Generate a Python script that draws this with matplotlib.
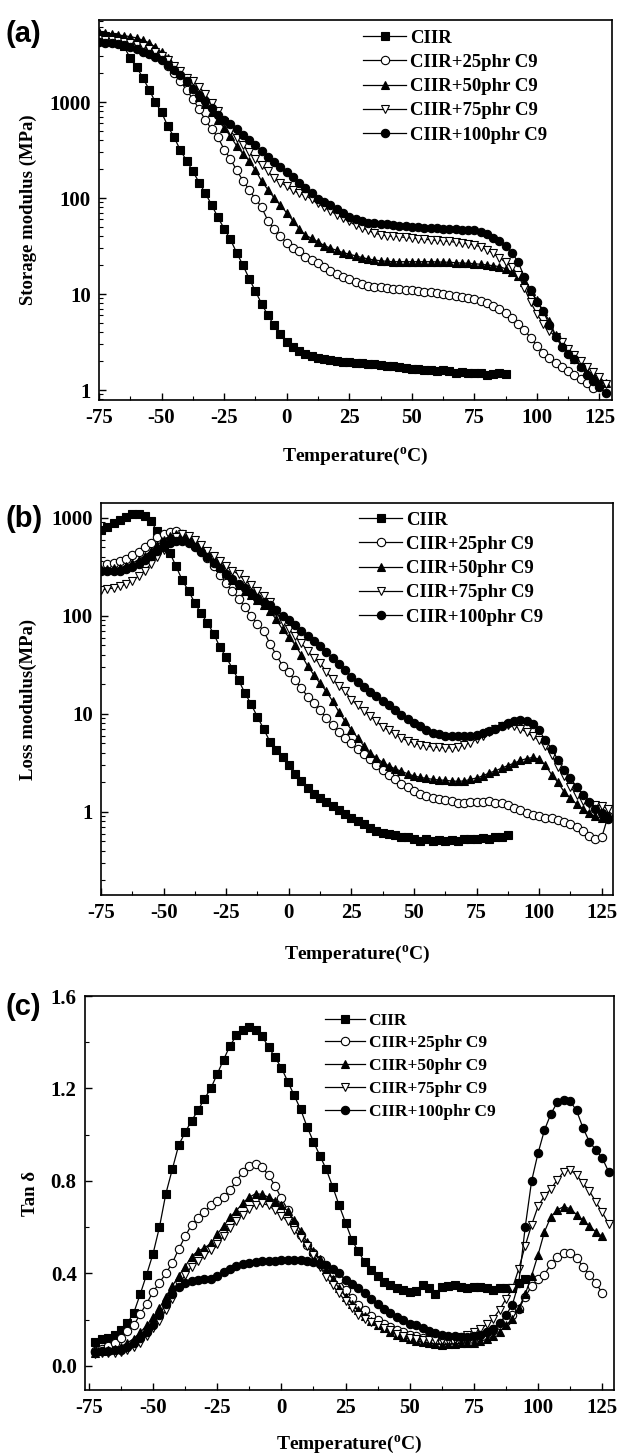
import matplotlib
matplotlib.use("Agg")
import matplotlib.pyplot as plt
import numpy as np
from matplotlib.ticker import FixedLocator, LogLocator, NullFormatter, MultipleLocator, FormatStrFormatter

plt.rcParams['font.family'] = ['Liberation Serif', 'DejaVu Serif']
plt.rcParams['font.weight'] = 'bold'
plt.rcParams['axes.labelweight'] = 'bold'
plt.rcParams['axes.unicode_minus'] = False
plt.rcParams['mathtext.fontset'] = 'custom'
plt.rcParams['mathtext.rm'] = 'Liberation Serif:bold'

labels = ['CIIR', 'CIIR+25phr C9', 'CIIR+50phr C9', 'CIIR+75phr C9', 'CIIR+100phr C9']

# temperature grid (deg C) of the DMA scan, 2.5 C step
temp_ab = np.arange(-75, 130, 2.5)
temp_c = np.arange(-72.5, 130, 2.5)

# (a) storage modulus, MPa
E1_ciir = [5000, 4900, 4750, 4500, 3800, 2850, 2300, 1800, 1350, 1000,
           780, 560, 430, 315, 245, 190, 145, 112, 85, 63,
           48, 37, 27, 20, 14.5, 10.7, 7.9, 6.0, 4.7, 3.85,
           3.2, 2.78, 2.52, 2.35, 2.25, 2.17, 2.12, 2.07, 2.02, 1.98,
           1.95, 1.92, 1.9, 1.88, 1.86, 1.83, 1.8, 1.78, 1.74, 1.70,
           1.67, 1.65, 1.62, 1.60, 1.58, 1.60, 1.57, 1.52, 1.55, 1.50,
           1.52, 1.50, 1.42, 1.48, 1.50, 1.48]
E1_25 = [4600, 4500, 4400, 4250, 4100, 3950, 3800, 3600, 3400, 3100,
         2800, 2400, 2000, 1650, 1330, 1080, 840, 650, 520, 430,
         320, 255, 195, 152, 122, 98, 80, 58, 47, 40,
         34, 30.5, 27.8, 24.5, 22.5, 21, 19.2, 17.5, 16.2, 15.2,
         14.4, 13.4, 12.7, 12.2, 11.9, 11.7, 11.6, 11.4, 11.2, 11.1,
         10.9, 10.7, 10.6, 10.4, 10.2, 10.0, 9.8, 9.6, 9.3, 9.0,
         8.8, 8.5, 8.1, 7.5, 7.0, 6.3, 5.6, 4.9, 4.2, 3.5,
         2.9, 2.45, 2.15, 1.9, 1.72, 1.58, 1.42, 1.3, 1.18, 1.06]
E1_50 = [5300, 5200, 5100, 5000, 4900, 4800, 4650, 4400, 4150, 3700,
         3300, 2850, 2400, 2000, 1650, 1400, 1130, 950, 780, 650,
         540, 440, 350, 290, 245, 195, 150, 122, 100, 84,
         70, 58, 48, 41, 38, 35, 32, 30, 28.5, 27,
         26, 25, 24, 23.2, 22.6, 22.2, 21.9, 21.7, 21.7, 21.7,
         21.7, 21.7, 21.7, 21.7, 21.6, 21.5, 21.4, 21.2, 21.0, 20.9,
         20.7, 20.4, 20.1, 19.7, 19.3, 18.3, 16.9, 15.5, 13.4, 10.8,
         8.6, 6.7, 5.2, 3.7, 2.95, 2.5, 2.1, 1.8, 1.55, 1.42,
         1.3, 1.17]
E1_75 = [4500, 4450, 4400, 4300, 4200, 4100, 3950, 3800, 3600, 3350,
         3050, 2750, 2400, 2100, 1800, 1650, 1450, 1200, 980, 800,
         620, 500, 420, 360, 300, 255, 220, 190, 160, 145,
         133, 120, 112, 106, 97, 88, 80, 73, 67, 62,
         57, 52, 49, 46, 43, 41.5, 40.5, 40, 39.5, 38.8,
         38.2, 37.7, 37.2, 36.7, 36.3, 35.8, 35.3, 34.6, 34, 33.2,
         32.4, 31, 29, 26.5, 23.8, 21.5, 19, 15.8, 11.5, 8.2,
         6.2, 4.9, 4.1, 3.6, 3.2, 2.7, 2.3, 2.0, 1.75, 1.55,
         1.38, 1.15]
E1_100 = [4200, 4150, 4100, 4000, 3900, 3770, 3550, 3350, 3150, 2950,
          2750, 2450, 2150, 1900, 1650, 1380, 1190, 1020, 860, 740,
          650, 590, 520, 450, 400, 355, 310, 270, 240, 212,
          187, 165, 145, 127, 112, 98, 91, 84, 76, 69,
          64, 60, 57, 55.5, 54.5, 53.5, 53, 52, 51, 50.5,
          50, 49.5, 49, 48.7, 48.3, 48, 47.6, 47.2, 46.8, 46.5,
          46, 44.5, 42, 38.5, 35.5, 31.5, 27, 21.5, 15, 11,
          8.3, 6.6, 4.8, 3.6, 2.8, 2.4, 2.1, 1.75, 1.45, 1.25,
          1.08, 0.93]

# (b) loss modulus, MPa
E2_ciir = [750, 800, 880, 960, 1030, 1100, 1100, 1050, 920, 730,
           580, 440, 320, 230, 180, 135, 106, 85, 66, 48,
           38, 29, 22, 16.3, 12.5, 9.3, 7.0, 5.2, 4.3, 3.6,
           3.0, 2.45, 2.05, 1.75, 1.53, 1.38, 1.27, 1.15, 1.05, 0.95,
           0.87, 0.8, 0.75, 0.68, 0.64, 0.61, 0.59, 0.575, 0.56, 0.55,
           0.53, 0.5, 0.53, 0.51, 0.52, 0.5, 0.52, 0.51, 0.53, 0.53,
           0.53, 0.54, 0.53, 0.55, 0.56, 0.58]
E2_25 = [330, 335, 345, 365, 385, 415, 450, 500, 560, 640,
         690, 720, 730, 690, 600, 520, 460, 390, 320, 260,
         215, 180, 150, 122, 100, 83, 70, 52, 40, 31,
         26.5, 22, 18.5, 15, 12.8, 11, 9.1, 7.7, 6.6, 5.7,
         5.0, 4.4, 3.9, 3.45, 3.0, 2.7, 2.4, 2.15, 1.95, 1.78,
         1.63, 1.52, 1.44, 1.38, 1.35, 1.32, 1.3, 1.24, 1.22, 1.25,
         1.27, 1.25, 1.3, 1.24, 1.24, 1.18, 1.1, 1.04, 0.98, 0.94,
         0.9, 0.87, 0.86, 0.83, 0.79, 0.75, 0.7, 0.64, 0.57, 0.53,
         0.55, 0.9]
E2_50 = [300, 300, 305, 310, 325, 345, 375, 410, 465, 530,
         600, 650, 685, 690, 650, 575, 500, 430, 370, 315,
         275, 235, 205, 180, 162, 145, 130, 112, 92, 73,
         61, 51, 40, 31, 25, 20.5, 17, 13.5, 10.5, 8.4,
         6.9, 5.7, 4.7, 4.0, 3.55, 3.2, 2.95, 2.75, 2.6, 2.45,
         2.33, 2.25, 2.2, 2.15, 2.12, 2.1, 2.07, 2.05, 2.07, 2.15,
         2.22, 2.33, 2.5, 2.62, 2.8, 2.97, 3.15, 3.35, 3.5, 3.6,
         3.45, 3.0, 2.4, 2.0, 1.6, 1.38, 1.2, 1.07, 0.97, 0.9,
         0.86, 0.95]
E2_75 = [185, 188, 193, 200, 212, 228, 255, 290, 340, 400,
         470, 560, 640, 680, 650, 590, 530, 460, 410, 360,
         325, 290, 265, 230, 205, 180, 160, 140, 110, 86,
         74, 62, 53, 44, 37, 33, 27, 22.5, 19.5, 17,
         14, 12.2, 10.8, 9.5, 8.4, 7.4, 6.8, 6.2, 5.7, 5.3,
         5.0, 4.85, 4.7, 4.6, 4.55, 4.5, 4.5, 4.6, 4.8, 5.1,
         5.5, 6.0, 6.5, 7.0, 7.5, 7.7, 7.5, 7.1, 6.5, 5.9,
         5.4, 4.7, 3.8, 2.9, 2.3, 1.8, 1.5, 1.3, 1.2, 1.17,
         1.15, 1.08]
E2_100 = [285, 285, 287, 290, 300, 315, 340, 370, 410, 460,
          510, 550, 575, 580, 560, 510, 450, 400, 350, 305,
          270, 240, 212, 192, 170, 152, 140, 128, 116, 100,
          90, 80, 71, 62, 55, 49, 43, 37, 32, 28,
          24, 21, 18.8, 16.8, 15.2, 13.5, 12.2, 11, 9.8, 8.8,
          8.1, 7.5, 6.9, 6.4, 6.2, 6.0, 5.9, 5.9, 5.9, 6.0,
          6.1, 6.4, 6.7, 7.1, 7.5, 8.0, 8.4, 8.7, 8.5, 7.8,
          6.8, 5.4, 4.4, 3.4, 2.7, 2.2, 1.8, 1.5, 1.25, 1.08,
          0.98, 0.85]

# (c) tan delta
tan_ciir = [0.105, 0.115, 0.12, 0.134, 0.155, 0.185, 0.23, 0.31, 0.395, 0.485,
            0.6, 0.745, 0.85, 0.955, 1.01, 1.06, 1.105, 1.155, 1.2, 1.262,
            1.325, 1.385, 1.43, 1.455, 1.467, 1.455, 1.425, 1.38, 1.335, 1.29,
            1.23, 1.17, 1.11, 1.035, 0.97, 0.91, 0.85, 0.775, 0.695, 0.62,
            0.545, 0.495, 0.45, 0.415, 0.39, 0.365, 0.35, 0.336, 0.33, 0.322,
            0.325, 0.35, 0.336, 0.31, 0.34, 0.345, 0.35, 0.34, 0.336, 0.343,
            0.34, 0.336, 0.33, 0.335, 0.336, 0.336, 0.36, 0.375]
tan_25 = [0.065, 0.072, 0.085, 0.1, 0.12, 0.15, 0.175, 0.225, 0.27, 0.32,
          0.36, 0.4, 0.445, 0.505, 0.56, 0.61, 0.64, 0.665, 0.695, 0.712,
          0.73, 0.76, 0.8, 0.84, 0.866, 0.873, 0.86, 0.825, 0.78, 0.725,
          0.675, 0.615, 0.565, 0.525, 0.49, 0.46, 0.43, 0.405, 0.375, 0.33,
          0.295, 0.265, 0.24, 0.215, 0.198, 0.183, 0.17, 0.157, 0.145, 0.135,
          0.128, 0.122, 0.117, 0.113, 0.112, 0.112, 0.112, 0.115, 0.12, 0.126,
          0.135, 0.145, 0.158, 0.175, 0.195, 0.22, 0.245, 0.3, 0.345, 0.375,
          0.395, 0.44, 0.472, 0.488, 0.49, 0.468, 0.43, 0.395, 0.36, 0.315]
tan_50 = [0.058, 0.063, 0.067, 0.075, 0.084, 0.1, 0.118, 0.145, 0.175, 0.21,
          0.25, 0.3, 0.345, 0.39, 0.43, 0.473, 0.497, 0.51, 0.53, 0.57,
          0.605, 0.643, 0.672, 0.705, 0.73, 0.745, 0.742, 0.73, 0.715, 0.695,
          0.67, 0.63, 0.585, 0.535, 0.497, 0.463, 0.415, 0.375, 0.337, 0.3,
          0.268, 0.24, 0.215, 0.195, 0.178, 0.165, 0.148, 0.134, 0.124, 0.115,
          0.108, 0.102, 0.098, 0.095, 0.092, 0.093, 0.095, 0.098, 0.099, 0.1,
          0.107, 0.115, 0.13, 0.148, 0.175, 0.205, 0.25, 0.31, 0.39, 0.48,
          0.58, 0.645, 0.675, 0.689, 0.68, 0.655, 0.63, 0.605, 0.58, 0.56]
tan_75 = [0.053, 0.055, 0.057, 0.058, 0.062, 0.07, 0.08, 0.1, 0.13, 0.165,
          0.195, 0.24, 0.29, 0.35, 0.393, 0.43, 0.455, 0.478, 0.5, 0.527,
          0.56, 0.598, 0.628, 0.655, 0.68, 0.697, 0.703, 0.695, 0.673, 0.65,
          0.625, 0.588, 0.555, 0.517, 0.48, 0.43, 0.385, 0.348, 0.315, 0.28,
          0.25, 0.222, 0.205, 0.19, 0.178, 0.165, 0.155, 0.14, 0.13, 0.122,
          0.116, 0.112, 0.112, 0.112, 0.112, 0.113, 0.118, 0.125, 0.134, 0.145,
          0.158, 0.18, 0.205, 0.242, 0.29, 0.335, 0.42, 0.52, 0.61, 0.69,
          0.735, 0.765, 0.805, 0.84, 0.848, 0.826, 0.79, 0.757, 0.71, 0.665,
          0.615]
tan_100 = [0.06, 0.063, 0.065, 0.067, 0.07, 0.08, 0.098, 0.12, 0.148, 0.178,
           0.222, 0.268, 0.31, 0.34, 0.36, 0.369, 0.372, 0.374, 0.378, 0.39,
           0.408, 0.42, 0.432, 0.44, 0.446, 0.45, 0.452, 0.454, 0.456, 0.458,
           0.458, 0.458, 0.457, 0.455, 0.449, 0.443, 0.435, 0.42, 0.4, 0.372,
           0.355, 0.338, 0.315, 0.29, 0.268, 0.245, 0.228, 0.213, 0.197, 0.183,
           0.175, 0.165, 0.152, 0.143, 0.136, 0.131, 0.128, 0.127, 0.127, 0.13,
           0.135, 0.145, 0.16, 0.185, 0.22, 0.265, 0.36, 0.6, 0.8, 0.92,
           1.02, 1.09, 1.14, 1.15, 1.145, 1.105, 1.03, 0.97, 0.935, 0.9,
           0.84]

markers = ['s', 'o', '^', 'v', 'o']
faces = ['k', 'white', 'k', 'white', 'k']

W, H = 618, 1455
fig = plt.figure(figsize=(W / 100, H / 100), dpi=100)


def box(left, right, top, bottom):
    return [left / W, 1 - bottom / H, (right - left) / W, (bottom - top) / H]


def style(ax):
    for s in ax.spines.values():
        s.set_linewidth(1.2)
    ax.tick_params(which='both', direction='in', top=False, right=False, labelsize=15, pad=6)
    ax.tick_params(which='major', length=5, width=1.0)
    ax.tick_params(which='minor', length=3, width=0.8)
    ax.xaxis.set_major_locator(MultipleLocator(25))
    ax.xaxis.set_minor_locator(MultipleLocator(12.5))


def draw(ax, T, series):
    for vals, m, fc, lab in zip(series, markers, faces, labels):
        ax.plot(T[:len(vals)], vals, '-', color='k', lw=0.9, marker=m, ms=6,
                mfc=fc, mec='k', mew=0.8, label=lab)


def log_axis(ax):
    ax.set_yscale('log')
    ax.yaxis.set_major_locator(FixedLocator([1, 10, 100, 1000]))
    ax.yaxis.set_major_formatter(FormatStrFormatter('%g'))
    ax.yaxis.set_minor_locator(LogLocator(base=10, subs=np.arange(2, 10)))
    ax.yaxis.set_minor_formatter(NullFormatter())


def add_legend(ax, x, y, size):
    ax.legend(loc='upper left', bbox_to_anchor=(x, y), frameon=False, fontsize=size,
              handlelength=2.3, handletextpad=0.2, labelspacing=0.38,
              borderpad=0, borderaxespad=0)


xlab = r'Temperature($\mathrm{^o}$C)'

# (a)
ax1 = fig.add_axes(box(99, 612, 20, 400))
draw(ax1, temp_ab, [E1_ciir, E1_25, E1_50, E1_75, E1_100])
log_axis(ax1)
ax1.set_xlim(-75, 130)
ax1.set_ylim(0.787, 7150)
style(ax1)
ax1.set_ylabel('Storage modulus (MPa)', fontsize=13.5)
ax1.yaxis.set_label_coords(-0.121, 0.5)
ax1.set_xlabel(xlab, fontsize=14)
ax1.xaxis.set_label_coords(0.5, -0.12)
add_legend(ax1, 0.515, 0.975, 13.5)

# (b)
ax2 = fig.add_axes(box(101, 613, 503, 895))
draw(ax2, temp_ab, [E2_ciir, E2_25, E2_50, E2_75, E2_100])
log_axis(ax2)
ax2.set_xlim(-75, 129.5)
ax2.set_ylim(0.142, 1420)
style(ax2)
ax2.set_ylabel('Loss modulus(MPa)', fontsize=13.5)
ax2.yaxis.set_label_coords(-0.125, 0.5)
ax2.set_xlabel(xlab, fontsize=14)
ax2.xaxis.set_label_coords(0.5, -0.125)
add_legend(ax2, 0.504, 0.978, 13.5)

# (c)
ax3 = fig.add_axes(box(85, 614, 996, 1390))
draw(ax3, temp_c, [tan_ciir, tan_25, tan_50, tan_75, tan_100])
ax3.set_xlim(-76.5, 129.6)
ax3.set_ylim(-0.104, 1.6)
style(ax3)
ax3.yaxis.set_major_locator(MultipleLocator(0.4))
ax3.yaxis.set_minor_locator(MultipleLocator(0.2))
ax3.yaxis.set_major_formatter(FormatStrFormatter('%.1f'))
ax3.set_ylabel('Tan δ', fontsize=13.5)
ax3.yaxis.set_label_coords(-0.087, 0.5)
ax3.set_xlabel(xlab, fontsize=14)
ax3.xaxis.set_label_coords(0.5, -0.112)
add_legend(ax3, 0.454, 0.958, 12.5)

tag_font = dict(family='Liberation Sans', weight='bold', size=21, ha='left', va='center')
fig.text(6 / W, 1 - 34 / H, '(a)', **tag_font)
fig.text(6 / W, 1 - 519 / H, '(b)', **tag_font)
fig.text(6 / W, 1 - 1007 / H, '(c)', **tag_font)

fig.savefig('out.png', dpi=100)
